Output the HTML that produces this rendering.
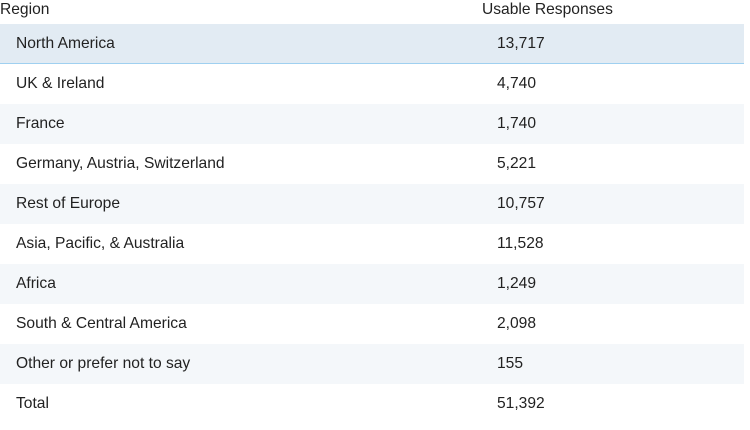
<!DOCTYPE html>
<html><head><meta charset="utf-8"><style>
body{margin:0;width:750px;height:430px;background:#fff;font-family:"Liberation Sans",Arial,sans-serif;color:#222;overflow:hidden}
.hdr{position:absolute;top:0;height:22px;font-size:15.6px;line-height:20px}
.row{position:absolute;left:0;width:744px;height:40px;font-size:15.6px;line-height:40px}
.row span{position:absolute}
.c1{left:16px}.c2{left:497px}
</style></head><body>
<div class="hdr" style="left:0">Region</div>
<div class="hdr" style="left:482px">Usable Responses</div>
<div id="tbl"></div>
<script>
const regions=["North America","UK & Ireland","France","Germany, Austria, Switzerland","Rest of Europe","Asia, Pacific, & Australia","Africa","South & Central America","Other or prefer not to say","Total"];
const responses=[13717,4740,1740,5221,10757,11528,1249,2098,155,51392];
const tbl=document.getElementById('tbl');
regions.forEach((r,i)=>{
  const d=document.createElement('div');
  d.className='row';
  
  
  d.style.top=(24+i*40)+'px';
  if(i===0){d.style.background='#e2ebf3';d.style.height='39px';d.style.borderBottom='1px solid #9fd0f0';}
  else if(i%2===0)d.style.background='#f4f7fa';
  const a=document.createElement('span');a.className='c1';a.textContent=r;
  
  
  const b=document.createElement('span');b.className='c2';b.textContent=responses[i].toLocaleString('en-US');
  
  
  d.appendChild(a);d.appendChild(b);tbl.appendChild(d);
});
</script>
</body></html>
